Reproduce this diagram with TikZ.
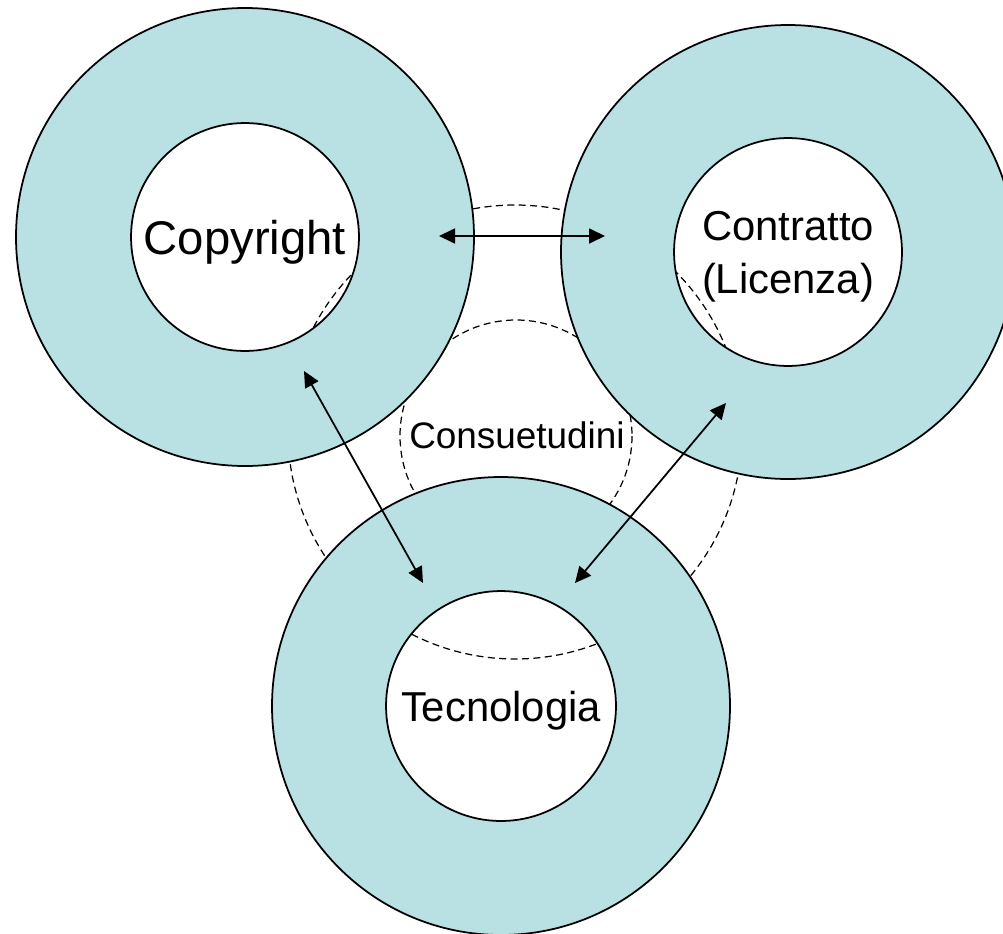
\documentclass[tikz,border=0pt]{standalone}
\usepackage{fontspec}
\setmainfont{Liberation Sans}
\usetikzlibrary{arrows.meta}
\definecolor{ringblue}{RGB}{185,224,227}
\def\ring(#1)(#2:#3){\fill[ringblue,even odd rule] (#1) circle (#2) (#1) circle (#3); \draw[line width=1pt] (#1) circle (#2);}

\tikzset{
	hole/.style={circle, draw, line width=1pt, inner sep=0pt, text depth=0pt, minimum size=#1, align=center},
	guide/.style={dash pattern=on 4pt off 2.5pt, line width=0.7pt},
	link/.style={{Triangle[length=0.32cm,width=0.3cm]}-{Triangle[length=0.32cm,width=0.3cm]}, line width=1pt}
}

\begin{document}
\begin{tikzpicture}[x=0.02cm,y=-0.02cm]
			\useasboundingbox (0,0) rectangle (1003,933);
			%%%%% START %%%%%
			\draw[guide] (515,432) circle (227);
			\draw[guide] (516,436) circle (116);
			
			\ring(245,237)(229:114)
			\ring(788,252)(227:114)
			\ring(501,706)(229:115)
			
			\node[hole=4.56cm, font=\fontsize{26.9}{32}\selectfont] (copyright) at (245,237) {Copyright};
			\node[hole=4.56cm, font=\fontsize{23.8}{30.2}\selectfont] (contratto) at (788,252) {Contratto\\(Licenza)};
			\node[hole=4.6cm, font=\fontsize{23.8}{29.5}\selectfont] (tecnologia) at (501,706) {Tecnologia};
			\node[font=\fontsize{21}{25}\selectfont] (consuetudini) at (517,435) {Consuetudini};
			
			\coordinate (cr-e) at (439,236);
			\coordinate (cr-s) at (304,371);
			\coordinate (ct-w) at (605,236);
			\coordinate (ct-s) at (726,403);
			\coordinate (tc-l) at (423,583);
			\coordinate (tc-r) at (575,583);
			
			\draw[link] (cr-e) -- (ct-w);
			\draw[link] (cr-s) -- (tc-l);
			\draw[link] (ct-s) -- (tc-r);
			%%%%% END %%%%%
\end{tikzpicture}
\end{document}
